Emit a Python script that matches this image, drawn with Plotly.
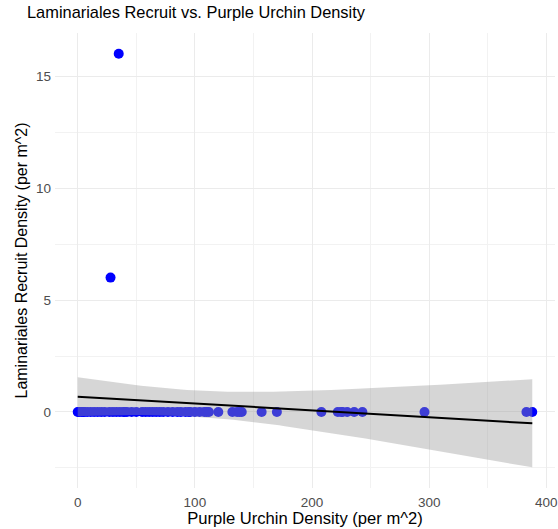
import numpy as np
import plotly.graph_objects as go

# Purple urchin density (x) and Laminariales recruit density (y)
urchin = [0, 1, 3, 5, 5, 8, 11, 14, 17, 20, 23,
          27, 30, 33, 36, 39, 40, 42, 46, 50, 55, 58, 61, 64, 67, 70,
          73, 77, 81, 85, 88, 92, 95, 96, 100, 104, 108, 110, 112,
          120, 132, 136, 138, 140, 157, 170, 208, 222, 225, 226, 230, 236, 243, 296, 383, 388,
          28, 35]
recruit = [0] * 56 + [6, 16]

x_ticks = [0, 100, 200, 300, 400]
y_ticks = [0, 5, 10, 15]

T_CRIT = 2.004  # 97.5% t quantile, df ~ 56

x = np.array(urchin, dtype=float)
y = np.array(recruit, dtype=float)
n = len(x)
xm = x.mean()
sxx = ((x - xm) ** 2).sum()
slope = ((x - xm) * (y - y.mean())).sum() / sxx
icpt = y.mean() - slope * xm
resid = y - (icpt + slope * x)
sigma = np.sqrt((resid ** 2).sum() / (n - 2))
xs = np.linspace(x.min(), x.max(), 80)
fit = icpt + slope * xs
se = sigma * np.sqrt(1 / n + (xs - xm) ** 2 / sxx)
lo = fit - T_CRIT * se
hi = fit + T_CRIT * se

xmin, xmax = x.min(), x.max()
ymin, ymax = min(y.min(), lo.min()), max(y.max(), hi.max())
xr = [xmin - 0.05 * (xmax - xmin), xmax + 0.05 * (xmax - xmin)]
yr = [ymin - 0.05 * (ymax - ymin), ymax + 0.05 * (ymax - ymin)]

fig = go.Figure()
fig.add_trace(go.Scatter(x=urchin, y=recruit, mode="markers",
                         marker=dict(color="#0000FF", size=10, line=dict(width=0)),
                         showlegend=False, hoverinfo="x+y"))
fig.add_trace(go.Scatter(x=np.concatenate([xs, xs[::-1]]), y=np.concatenate([hi, lo[::-1]]),
                         fill="toself", fillcolor="rgba(153,153,153,0.4)",
                         line=dict(width=0), mode="lines", showlegend=False, hoverinfo="skip"))
fig.add_trace(go.Scatter(x=xs, y=fit, mode="lines", line=dict(color="black", width=2),
                         showlegend=False))

font = "Liberation Sans, Arial, sans-serif"
fig.update_layout(
    width=558, height=529,
    margin=dict(l=55, r=3, t=33, b=41),
    paper_bgcolor="white", plot_bgcolor="white",
    font=dict(family=font, color="black"),
    title=dict(text="Laminariales Recruit vs. Purple Urchin Density", x=27 / 558, xref="container",
               xanchor="left", y=1 - 7 / 529, yref="container", yanchor="top",
               font=dict(size=16.4, color="black")),
    xaxis=dict(range=xr, tickvals=x_ticks, showgrid=True, gridcolor="#EBEBEB", gridwidth=1.1,
               zeroline=False, showline=False, ticks="", automargin=False, ticklabelstandoff=4,
               tickfont=dict(size=13.5, color="#4D4D4D"),
               minor=dict(showgrid=True, gridcolor="#F2F2F2", gridwidth=0.6, dtick=50, tick0=0),
               title=dict(text="Purple Urchin Density (per m^2)", font=dict(size=16.6, color="black"),
                          standoff=0)),
    yaxis=dict(range=yr, tickvals=y_ticks, showgrid=True, gridcolor="#EBEBEB", gridwidth=1.1,
               zeroline=False, showline=False, ticks="", automargin=False, ticklabelstandoff=3,
               tickfont=dict(size=13.5, color="#4D4D4D"),
               minor=dict(showgrid=True, gridcolor="#F2F2F2", gridwidth=0.6, dtick=2.5, tick0=0),
               title=dict(text="Laminariales Recruit Density (per m^2)", font=dict(size=16, color="black"),
                          standoff=4)),
)

fig.write_html("out.html", config={"displayModeBar": False},
               post_script="document.body.style.margin='0';document.body.style.overflow='hidden';")
